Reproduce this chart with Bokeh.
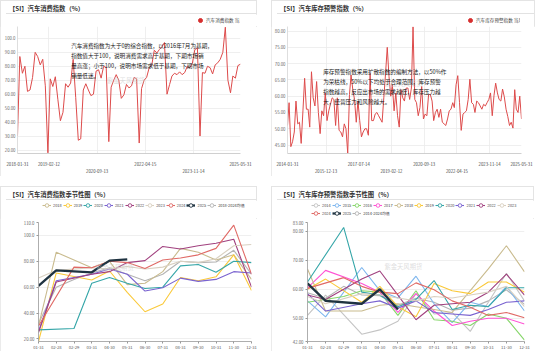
import pandas as pd
from bokeh.plotting import figure
from bokeh.models import Range1d, LinearAxis, FixedTicker, Grid, Legend, LegendItem, Label, Div
from bokeh.layouts import column, row
from bokeh.embed import file_html
from bokeh.resources import INLINE

FONT = "Noto Sans CJK SC"

# ---------------- data: 汽车消费指数 (monthly, Jan..Dec) ----------------
cons_2018 = [30, 87, 75, 80, 62, 63, 72, 90, 87, 81, 85, 66]
cons_2019 = [18, 71, 65.5, 72.5, 56, 41, 47, 67.5, 65, 68, 85, 57.5]
cons_2020 = [27, 28, 63, 67.5, 63, 59, 60, 76.5, 77.5, 71.5, 80, 79]
cons_2021 = [26, 65, 70, 74, 70, 57, 59.5, 67, 64.5, 66, 72, 71]
cons_2022 = [25, 64, 70, 72, 79, 80.5, 91.5, 89.5, 92, 94, 97, 60]
cons_2023 = [67, 73, 75, 74, 76, 74, 75.5, 80, 79, 82, 92, 93]
cons_2024 = [30, 75.5, 75, 80, 79, 74.5, 81, 82.5, 85, 90, 108, 70]
cons_2025 = [61, 73, 71.5, 80.5, 81.5]
cons_avg = [32, 60, 66, 71, 75, 70, 65, 70, 80, 79, 79.5, 88.5, 70]   # 2018-2024均值 per category

# ---------------- data: 汽车库存预警指数 (monthly, Jan..Dec) ----------------
inv_2014 = [51, 58, 44.5, 46, 49, 58.5, 51.5, 52, 45.5, 55.5, 65.5, 56]
inv_2015 = [56, 50.5, 67.5, 59.5, 57, 64.5, 55, 48.5, 55.5, 54, 61, 52.5]
inv_2016 = [55.5, 57.5, 59.5, 59, 51, 59.5, 49.5, 49, 47.5, 51.5, 50, 42.5]
inv_2017 = [60.5, 66.5, 62, 59, 52, 58.5, 52.5, 47.5, 49, 50, 50, 48]
inv_2018 = [67, 52.5, 52.5, 54.5, 55, 54, 53, 52, 59.5, 67, 75, 66]
inv_2019 = [60, 63.5, 55.5, 61, 54, 50.5, 62, 59.5, 58.5, 62.5, 62.5, 59]
inv_2020 = [62.5, 81.3, 59, 58, 54, 56.5, 63, 53, 54.5, 54, 60.5, 60.5]
inv_2021 = [58.5, 52.5, 55, 56, 53.5, 56, 52, 51.5, 51, 53, 55.5, 56]
inv_2022 = [58, 56.5, 63.5, 66.3, 58, 49.5, 54.5, 55, 55.5, 59, 65.2, 58]
inv_2023 = [57.5, 55, 58.5, 58, 57, 56, 57.5, 57, 58, 59, 61, 54]
inv_2024 = [60.3, 64, 61, 59, 58.5, 62.2, 59.8, 56, 53.8, 51, 52, 50.2]
inv_2025 = [62, 56, 55, 60, 53]
inv_avg = [58.8, 56.9, 61, 58.0, 57.8, 54.5, 56.9, 55.5, 52.8, 53.5, 56.0, 59.8, 54.8]  # 2014-2024均值

season_cats = ["01-31", "02-28", "02-29", "03-31", "04-30", "05-31", "06-30",
               "07-31", "08-31", "09-30", "10-31", "11-30", "12-31"]

cons_ticks_upper = ["2018-01-31", "2019-02-12", "2022-04-15", "2025-05-31"]
cons_ticks_lower = ["2020-09-13", "2023-11-14"]
inv_ticks_upper = ["2014-01-31", "2017-07-14", "2020-09-13", "2023-11-14", "2025-05-31"]
inv_ticks_lower = ["2015-12-13", "2019-02-12", "2022-04-15"]

cons_y_ticks = [20, 30, 40, 50, 60, 70, 80, 90, 100]
inv_y_ticks = [45, 50, 55, 60, 65, 70, 75, 80]
cons_season_y_ticks = [20, 40, 60, 80, 100, 110]
inv_season_y_ticks = [42, 50, 60, 70, 80, 83]

cons_note = ("汽车消费指数为大于0的综合指数，以2016年7月为基期，\n"
             "指数值大于100，说明消费需求高于基期，下期市场销\n"
             "量高涨；小于100，说明市场需求低于基期，下期市场\n"
             "销量低迷。")
inv_note = ("库存预警指数采用扩散指数的编制方法，以50%作\n"
            "为荣枯线，50%以下均处于合理范围，库存预警\n"
            "指数越高，反应出市场的需求越低，库存压力越\n"
            "大，经营压力和风险越大。")

COLORS = {2014: "#c4c4c4", 2015: "#7db6ee", 2016: "#86d66a", 2017: "#ff52d4",
          2018: "#c9bb8e", 2019: "#fac93a", 2020: "#35a6a8", 2021: "#7a63d0",
          2022: "#a1417f", 2023: "#d9d0c1", 2024: "#e06a66", 2025: "#1f3341",
          "avg": "#b4b4b4"}
RED = "#dd4b4b"

cons_years = {2018: cons_2018, 2019: cons_2019, 2020: cons_2020, 2021: cons_2021,
              2022: cons_2022, 2023: cons_2023, 2024: cons_2024, 2025: cons_2025}
inv_years = {2014: inv_2014, 2015: inv_2015, 2016: inv_2016, 2017: inv_2017,
             2018: inv_2018, 2019: inv_2019, 2020: inv_2020, 2021: inv_2021,
             2022: inv_2022, 2023: inv_2023, 2024: inv_2024, 2025: inv_2025}


def ms(s):
    return int(pd.Timestamp(s).to_datetime64().astype("datetime64[ms]").astype("int64"))


def monthly_series(years, start):
    vals = []
    for y in sorted(years):
        vals += years[y]
    dates = pd.date_range(start, periods=len(vals), freq=pd.offsets.MonthEnd())
    xs = dates.values.astype("datetime64[ms]").astype("int64").tolist()
    return xs, vals


def fmt4(v):
    n = len(str(int(abs(v))))
    return f"{v:.{max(0, 4 - n)}f}"


def cat_index(m, leap):
    if m == 0:
        return 0
    if m == 1:
        return 2 if leap else 1
    return m + 1


def base_fig(fw, fh, left, right, top, bottom, xr, yr):
    return figure(frame_width=fw, frame_height=fh, min_border_left=left, min_border_right=right,
                  min_border_top=top, min_border_bottom=bottom, x_range=Range1d(*xr),
                  y_range=Range1d(*yr), x_axis_type=None, y_axis_type=None,
                  toolbar_location=None, output_backend="svg", background_fill_color="white",
                  border_fill_color="white", outline_line_color=None)


def legend_fig(width, height, left_margin):
    return figure(width=width, height=height, min_border=0, min_border_left=0,
                  min_border_right=0, min_border_top=0, min_border_bottom=0,
                  x_range=Range1d(0, 1), y_range=Range1d(0, 1), x_axis_type=None,
                  y_axis_type=None, toolbar_location=None, output_backend="svg",
                  background_fill_color="white", border_fill_color="white",
                  outline_line_color=None, margin=(0, 0, 0, left_margin))


def add_yaxis(p, ticks, line_color, tick_out):
    ax = LinearAxis(ticker=FixedTicker(ticks=ticks),
                    major_label_overrides={t: fmt4(t) for t in ticks},
                    axis_line_color=line_color, axis_line_width=0.8,
                    major_tick_line_color=line_color if tick_out else None,
                    major_tick_out=tick_out, major_tick_in=0,
                    minor_tick_line_color=None, major_label_standoff=2,
                    major_label_text_font=FONT, major_label_text_font_size="4.3px",
                    major_label_text_color="#666")
    p.add_layout(ax, "left")
    p.add_layout(Grid(dimension=1, ticker=FixedTicker(ticks=ticks),
                      grid_line_color="#ebebeb", grid_line_width=0.8))


def add_time_xaxis(p, upper, lower):
    labels = {ms(d): d for d in upper}
    labels.update({ms(d): "\n" + d for d in lower})
    ax = LinearAxis(ticker=FixedTicker(ticks=sorted(labels)),
                    major_label_overrides=labels,
                    axis_line_color="#c4c4c4", axis_line_width=0.8,
                    major_tick_line_color=None, minor_tick_line_color=None,
                    major_label_standoff=1, major_label_text_font=FONT,
                    major_label_text_font_size="4.3px", major_label_text_color="#444")
    p.add_layout(ax, "below")
    allt = sorted(labels)
    p.add_layout(Grid(dimension=0, ticker=FixedTicker(ticks=allt[1:-1]),
                      grid_line_color="#ebebeb", grid_line_width=0.8))


def legend_style(**kw):
    base = dict(orientation="horizontal", glyph_width=10, glyph_height=10, label_height=6,
                padding=0, margin=0, border_line_color=None, background_fill_alpha=0,
                label_text_font=FONT, label_text_color="#444")
    base.update(kw)
    return base


# legend swatches need one (off-screen) point so that the legend draws their glyphs
OFF = dict(x=[-10], y=[-10])


def single_legend(lf, label, label_width):
    sc = lf.scatter(marker="circle", size=4, color="#d62f2f", **OFF)
    lf.add_layout(Legend(items=[LegendItem(label=label, renderers=[sc])], location="left",
                         **legend_style(label_standoff=1, label_width=label_width,
                                        label_text_font_size="4.6px")))


def season_legend(lf, entries, location):
    items = []
    for lab, color, width in entries:
        ln = lf.line(line_color=color, line_width=width, **OFF)
        sc = lf.scatter(marker="circle", size=4, fill_color="white",
                        line_color=color, line_width=0.9, **OFF)
        items.append(LegendItem(label=lab, renderers=[ln, sc]))
    lf.add_layout(Legend(items=items, location=location,
                         **legend_style(glyph_width=9, label_standoff=2, label_width=8,
                                        spacing=1, label_text_font_size="3.9px")))


def watermark(p, x, y):
    p.add_layout(Label(x=x, y=y, text="紫金天风期货", text_align="center", text_baseline="middle",
                       text_font=FONT, text_font_size="6.3px", text_color="#c8c8c8",
                       text_alpha=0.6))


def note(p, x, y, text):
    p.add_layout(Label(x=x, y=y, text=text, text_align="left", text_baseline="top",
                       text_font=FONT, text_font_size="5.6px", text_color="#222",
                       text_line_height=1.25))


# ---------------- top-left: consumption index time series ----------------
cx, cy = monthly_series(cons_years, "2018-01-31")
p1 = base_fig(223, 127, 17, 17, 0, 12, (ms("2018-01-31"), ms("2025-05-31")), (17.5, 108.5))
add_yaxis(p1, cons_y_ticks, "#d5d5d5", 0)
add_time_xaxis(p1, cons_ticks_upper, cons_ticks_lower)
watermark(p1, ms("2021-08-24"), 70)
p1.line(cx, cy, line_color=RED, line_width=1)
note(p1, ms("2019-11-06"), 97.5, cons_note)
l1 = legend_fig(257 - 178, 12, 178)
single_legend(l1, "汽车消费指数 当月值", 60)

# ---------------- top-right: inventory warning index time series ----------------
ix, iy = monthly_series(inv_years, "2014-01-31")
p2 = base_fig(234, 127, 15, 14, 0, 12, (ms("2014-01-31"), ms("2025-05-31")), (42.4, 81.4))
add_yaxis(p2, inv_y_ticks, "#d5d5d5", 0)
add_time_xaxis(p2, inv_ticks_upper, inv_ticks_lower)
watermark(p2, ms("2019-09-18"), 64)
p2.line(ix, iy, line_color=RED, line_width=1)
note(p2, ms("2015-10-24"), 68.8, inv_note)
l2 = legend_fig(263 - 178, 12, 178)
single_legend(l2, "汽车库存预警指数 当月值", 68)


# ---------------- seasonal charts ----------------
def seasonal(p, years, avg, avg_label, yticks):
    add_yaxis(p, yticks, "#999999", 2)
    xa = LinearAxis(ticker=FixedTicker(ticks=list(range(len(season_cats)))),
                    major_label_overrides={i: c for i, c in enumerate(season_cats)},
                    axis_line_color="#999999", axis_line_width=0.8,
                    major_tick_line_color="#999999", major_tick_out=2, major_tick_in=0,
                    minor_tick_line_color=None, major_label_standoff=1,
                    major_label_text_font=FONT, major_label_text_font_size="4.2px",
                    major_label_text_color="#555")
    p.add_layout(xa, "below")
    p.line(list(range(len(avg))), avg, line_color=COLORS["avg"], line_width=1.1)
    entries = []
    for y in sorted(years):
        leap = (y % 4 == 0)
        vals = years[y]
        xs = [cat_index(m, leap) for m in range(len(vals))]
        w = 2.3 if y == 2025 else 1.1
        p.line(xs, vals, line_color=COLORS[y], line_width=w)
        entries.append((str(y), COLORS[y], w))
    entries.append((avg_label, COLORS["avg"], 1.1))
    return entries


p3 = base_fig(213, 119, 38, 6, 4, 10, (0, 12), (18, 110))
watermark(p3, 4.3, 75)
e3 = seasonal(p3, cons_years, cons_avg, "2018-2024均值", cons_season_y_ticks)
l3 = legend_fig(257 - 4, 18, 4)
season_legend(l3, e3, "top_left")

p4 = base_fig(217, 119, 36, 10, 4, 10, (0, 12), (42, 83))
watermark(p4, 5.3, 67.8)
e4 = seasonal(p4, inv_years, inv_avg, "2014-2024均值", inv_season_y_ticks)
l4 = legend_fig(263 - 4, 18, 4)
season_legend(l4, e4[:10], "top_left")
season_legend(l4, e4[10:], "bottom_left")


# ---------------- layout ----------------
def panel(title, lf, p, width):
    d = Div(text=title, width=width - 6, height=14, margin=(0, 0, 0, 6),
            styles={"font-family": FONT, "font-size": "6.3px", "font-weight": "bold",
                    "color": "#333", "border-bottom": "1px solid #e2e2e2",
                    "box-sizing": "border-box", "padding-left": "3px",
                    "padding-top": "3px", "line-height": "11px"})
    return column(d, lf, p, spacing=0,
                  styles={"outline": "1px solid #e4e4e4", "outline-offset": "-1px"})


tl = panel("【SI】汽车消费指数（%）", l1, p1, 257)
tr = panel("【SI】汽车库存预警指数（%）", l2, p2, 263)
bl = panel("【SI】汽车消费指数季节性图（%）", l3, p3, 257)
br = panel("【SI】汽车库存预警指数季节性图（%）", l4, p4, 263)

layout = column(row(tl, tr, spacing=14), row(bl, br, spacing=14), spacing=10)

open("out.html", "w").write(file_html(layout, INLINE))
